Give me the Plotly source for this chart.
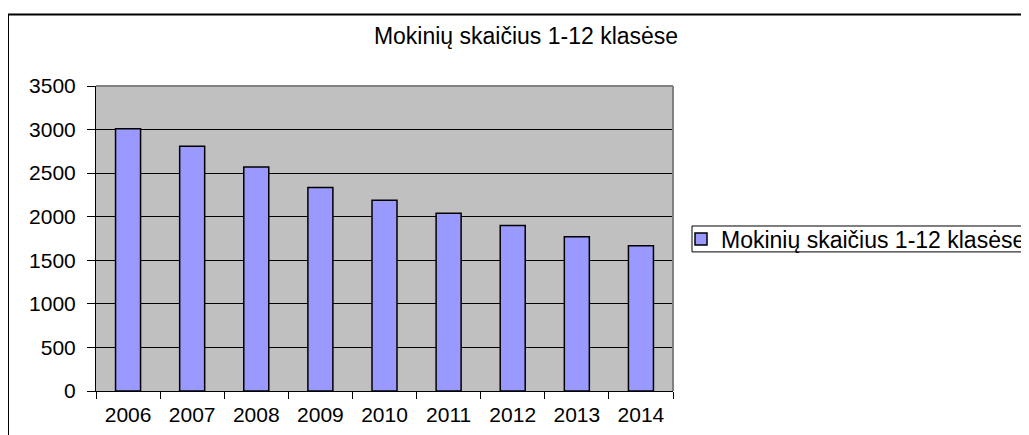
import plotly.graph_objects as go

years = ["2006", "2007", "2008", "2009", "2010", "2011", "2012", "2013", "2014"]
students = [3010, 2810, 2570, 2335, 2190, 2040, 1900, 1770, 1668]
series_name = "Mokinių skaičius 1-12 klasėse"
title_text = "Mokinių skaičius 1-12 klasėse"

# page offset (browser body margin)
OFF = 8
W, H = 1029, 435
# plot area in page pixels
L, R, T, B = 96, 673, 85.6, 391.5
pw, ph = R - L, B - T

def px(x):
    return (x - L) / pw

def py(y):
    return (B - y) / ph

fig = go.Figure()
fig.add_trace(go.Bar(
    x=years, y=students, name=series_name,
    marker=dict(color="#9999FF", line=dict(color="black", width=1.5)),
    showlegend=True,
))

fig.update_layout(
    width=W, height=H,
    margin=dict(l=L - OFF, r=W - (R - OFF), t=T - OFF, b=H - (B - OFF), pad=0,
                autoexpand=False),
    paper_bgcolor="white",
    plot_bgcolor="#C0C0C0",
    bargap=0.61,
    font=dict(family="Liberation Sans, Arial, sans-serif", size=21, color="black"),
    title=dict(text=title_text, x=(526 - OFF) / W, xanchor="center",
               y=1 - (36 - OFF) / H, yanchor="middle",
               font=dict(size=23, color="black")),
    showlegend=True,
    legend=dict(x=px(681), xanchor="left", y=py(239), yanchor="middle",
                borderwidth=0, bgcolor="rgba(0,0,0,0)",
                font=dict(size=23), itemwidth=30, tracegroupgap=0),
    xaxis=dict(type="category", showline=True, linecolor="black", linewidth=1,
               ticks="outside", tickson="boundaries", ticklen=7, tickcolor="black",
               showgrid=False, tickfont=dict(size=21), ticklabelstandoff=5),
    yaxis=dict(range=[0, 3500], dtick=500, showline=True, linecolor="black", linewidth=1,
               ticks="outside", ticklen=8, tickcolor="black",
               showgrid=True, gridcolor="black", gridwidth=1,
               zeroline=False, tickfont=dict(size=21), ticklabelstandoff=7),
    shapes=[
        dict(type="line", xref="paper", yref="paper", x0=0, x1=1, y0=1, y1=1,
             line=dict(color="#808080", width=2)),
        dict(type="line", xref="paper", yref="paper", x0=1, x1=1, y0=0, y1=1,
             line=dict(color="#808080", width=2)),
        # outer chart border
        dict(type="rect", xref="paper", yref="paper",
             x0=px(8), x1=px(1045), y0=py(450), y1=py(14),
             line=dict(color="black", width=2), layer="below"),
        # legend frame
        dict(type="rect", xref="paper", yref="paper",
             x0=px(692), x1=px(1045), y0=py(252), y1=py(226),
             line=dict(color="black", width=1)),
    ],
)

fig.write_html("out.html")
